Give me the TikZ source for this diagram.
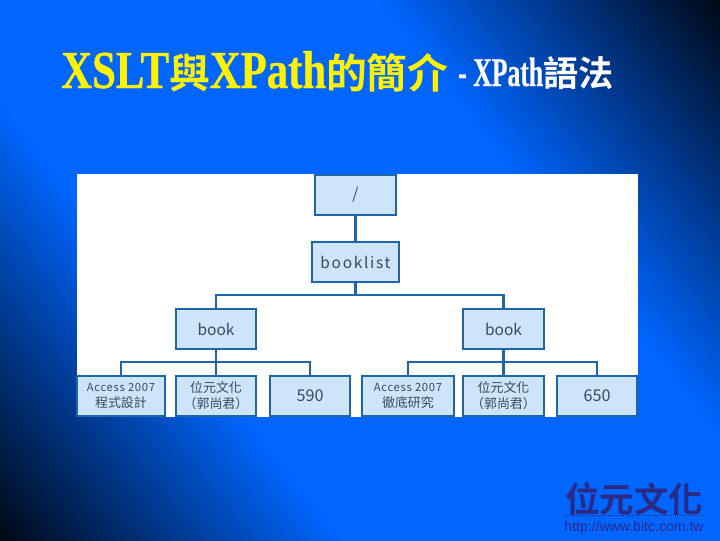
\documentclass[tikz,border=0pt]{standalone}
\usepackage{fontspec}
\usepackage{xcolor}
\usetikzlibrary{positioning}
\setmainfont{Liberation Serif}
\newfontfamily\cjkfont{Noto Sans CJK TC Bold}
\newfontfamily\boxfont{Noto Sans CJK TC}
\newfontfamily\spacedfont[LetterSpace=11]{Noto Sans CJK TC}
\newfontfamily\accessfont[LetterSpace=6]{Noto Sans CJK TC}
\newfontfamily\titlefont[FakeStretch=0.8,FakeBold=0.6]{Liberation Serif Bold}
\newfontfamily\subtitlefont[FakeStretch=0.63,FakeBold=0.4]{Liberation Serif Bold}
\newfontfamily\urlfont{Liberation Sans}
\definecolor{boxfill}{HTML}{CDE4FA}
\definecolor{boxline}{HTML}{1F66A8}
\definecolor{boxtext}{HTML}{3A4A5A}
\definecolor{logoblue}{HTML}{2A2A86}
\definecolor{slideblue}{HTML}{0066FF}
\pgfdeclarehorizontalshading{slidebg}{100bp}{
  color(0bp)=(black);
  color(13bp)=(black);
  color(36bp)=(slideblue);
  color(64bp)=(slideblue);
  color(87bp)=(black);
  color(100bp)=(black)}
\tikzset{
  treebox/.style={draw=boxline, line width=1.5pt, fill=boxfill, text=boxtext,
    minimum height=1cm, inner sep=0pt, outer sep=0pt, align=center,
    font=\boxfont\fontsize{11}{13}\selectfont},
  leafbox/.style={treebox, line width=1.2pt, font=\boxfont\fontsize{9.2}{11.5}\selectfont},
  link/.style={draw=boxline, line width=1.6pt}
}
\begin{document}
\begin{tikzpicture}[x=0.025cm, y=-0.025cm]
  % slide
  \shade[shading=slidebg, shading angle=38] (0,0) rectangle (720,540);
  \useasboundingbox (0,0) rectangle (720,540);
  \fill[white] (77,174) rectangle (638,417);

  % title
  \node[anchor=base west, inner sep=0pt, text=yellow, font=\titlefont\fontsize{38}{38}\selectfont] (title) at (61,88)
    {XSLT{\cjkfont\fontsize{29}{30}\selectfont 與}XPath{\cjkfont\fontsize{29}{30}\selectfont 的簡介}};
  \node[anchor=base west, inner sep=0pt, text=white, font=\subtitlefont\fontsize{29}{29}\selectfont] (subtitle) at (458,86)
    {- XPath{\cjkfont\fontsize{25}{25}\selectfont 語法}};

  % tree
  \node[treebox, minimum width=2.025cm] (root) at (355.5,195) {/};
  \node[treebox, minimum width=2.175cm, below=0.675cm of root, font=\spacedfont\fontsize{11}{13}\selectfont] (booklist) {booklist};
  \node[treebox, minimum width=2cm] (bookL) at (216,329) {book};
  \node[treebox, minimum width=2.025cm] (bookR) at (503.5,329) {book};

  \node[leafbox, minimum width=2cm, below=0.675cm of bookL] (pubL)
    {位元文化\\（郭尚君）};
  \node[leafbox, minimum width=2.2cm, left=0.275cm of pubL] (nameL)
    {{\accessfont\fontsize{8}{11.5}\selectfont Access 2007}\\程式設計};
  \node[leafbox, minimum width=2cm, right=0.35cm of pubL, font=\boxfont\fontsize{11.5}{13}\selectfont] (priceL) {590};

  \node[leafbox, minimum width=2.025cm, below=0.675cm of bookR] (pubR)
    {位元文化\\（郭尚君）};
  \node[leafbox, minimum width=2.3cm, left=0.225cm of pubR] (nameR)
    {{\accessfont\fontsize{8}{11.5}\selectfont Access 2007}\\徹底研究};
  \node[leafbox, minimum width=2cm, right=0.325cm of pubR, font=\boxfont\fontsize{11.5}{13}\selectfont] (priceR) {650};

  \coordinate[below=0.325cm of booklist] (forkTop);
  \coordinate[below=0.325cm of bookL] (forkL);
  \coordinate[below=0.325cm of bookR] (forkR);

  \draw[link] (root) -- (booklist);
  \draw[link] (booklist) -- (forkTop);
  \draw[link] (bookL.north) |- (forkTop) -| (bookR.north);
  \draw[link] (bookL) -- (pubL);
  \draw[link] (nameL.north) |- (forkL) -| (priceL.north);
  \draw[link] (bookR) -- (pubR);
  \draw[link] (nameR.north) |- (forkR) -| (priceR.north);

  % logo
  \node[inner sep=0pt, text=logoblue, font=\cjkfont\fontsize{24.5}{24.5}\selectfont] (logo) at (634,499) {位元文化};
  \node[inner sep=0pt, text=logoblue, font=\urlfont\fontsize{10}{10}\selectfont, below=3.5pt of logo] (url) {http://www.bitc.com.tw};
  \draw[logoblue, line width=0.6pt, densely dotted] (logo.south west) -- (logo.south east);
\end{tikzpicture}
\end{document}
